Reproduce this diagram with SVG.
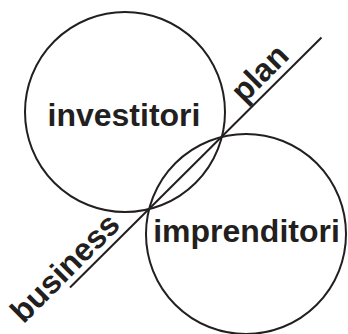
<svg xmlns="http://www.w3.org/2000/svg" width="348" height="334" viewBox="0 0 348 334">
<style>
.c{fill:none;stroke:#231f20;stroke-width:2}
.t{font-family:"Liberation Sans",Arial,sans-serif;font-weight:bold;font-size:32px;fill:#231f20}
</style>
<rect width="348" height="334" fill="#fff"/>
<g id="connectors">
<line class="c" x1="70" y1="287.5" x2="321.5" y2="37.5"/>
<text class="t" transform="translate(23.5,324.5) rotate(-45)">business</text>
<text class="t" transform="translate(244,104) rotate(-45)">plan</text>
</g>
<g id="investitori">
<circle class="c" cx="125" cy="112" r="100"/>
<text class="t" x="124" y="126" text-anchor="middle">investitori</text>
</g>
<g id="imprenditori">
<circle class="c" cx="246" cy="234" r="100"/>
<text class="t" x="246.5" y="242" text-anchor="middle">imprenditori</text>
</g>
</svg>
